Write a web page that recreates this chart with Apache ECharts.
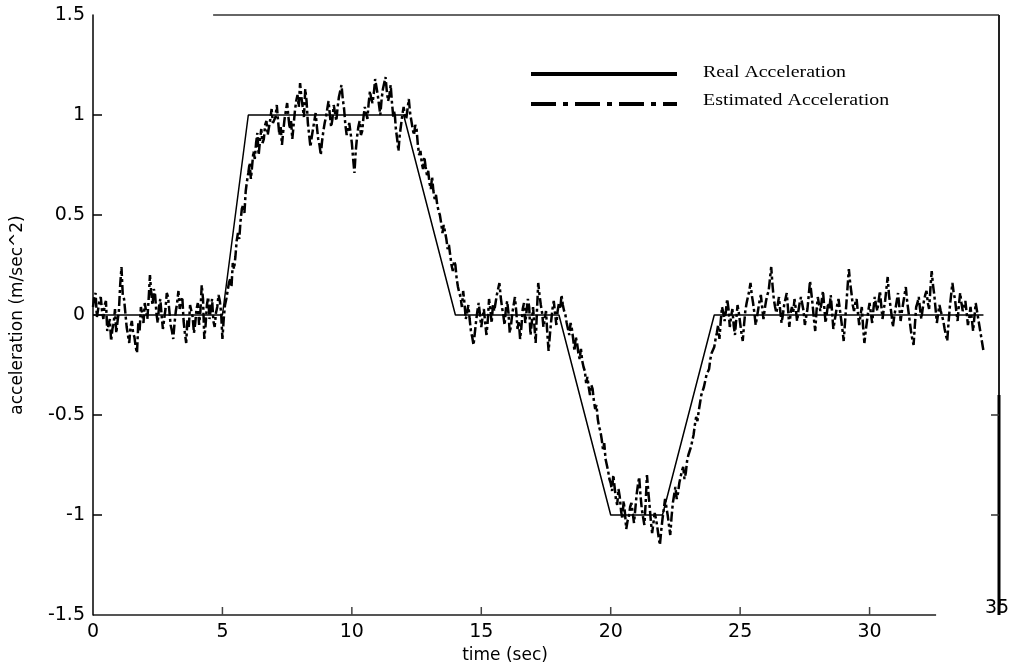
<!DOCTYPE html>
<html>
<head>
<meta charset="utf-8">
<script src="https://cdn.jsdelivr.net/npm/echarts@6/dist/echarts.min.js"></script>
<style>
  html, body { margin: 0; padding: 0; background: #fff; }
  #chart { width: 1016px; height: 670px; }
</style>
</head>
<body>
<div id="chart"></div>
<script>
// Axis ticks
const xTicks = [0, 5, 10, 15, 20, 25, 30, 35];
const yTicks = [-1.5, -1, -0.5, 0, 0.5, 1, 1.5];

// Commanded (real) acceleration profile: breakpoints in time (sec) and value (m/sec^2)
const realTime  = [0, 5, 6, 12, 14, 18, 20, 22, 24, 34.4];
const realAccel = [0, 0, 1, 1, 0, 0, -1, -1, 0, 0];

// Estimated acceleration, sampled every 0.05 sec starting at t = 0 (one row per second)
const sampleStep = 0.05;
const estimatedAccel = [
  0.04, 0.09, 0.11, -0.01, 0.03, 0.07, 0.09, 0.02, -0.02, 0.05, 0.07, -0.08, -0.05, -0.02, -0.13, -0.07, -0.04, 0.03, -0.09, -0.03,
  0.02, 0.15, 0.24, 0.10, 0.08, 0.01, -0.06, -0.10, -0.14, -0.06, -0.03, -0.09, -0.11, -0.16, -0.19, -0.04, -0.08, 0.04, 0.01, -0.04,
  0.06, 0.02, -0.02, 0.08, 0.20, 0.11, 0.05, 0.13, 0.10, 0.01, -0.04, 0.04, 0.08, 0.00, -0.07, -0.02, 0.03, 0.11, 0.09, 0.02,
  -0.05, -0.08, -0.12, -0.04, 0.02, 0.06, 0.12, 0.03, 0.07, 0.09, -0.03, -0.09, -0.14, -0.02, -0.06, 0.05, 0.04, -0.01, -0.09, -0.04,
  0.03, 0.06, -0.05, 0.02, 0.15, 0.08, -0.12, -0.05, 0.05, 0.09, -0.02, 0.03, 0.08, -0.03, -0.06, 0.01, 0.04, 0.10, 0.07, 0.01,
  -0.12, -0.02, 0.05, 0.08, 0.12, 0.16, 0.18, 0.14, 0.26, 0.23, 0.29, 0.37, 0.41, 0.38, 0.47, 0.53, 0.55, 0.51, 0.62, 0.67,
  0.71, 0.76, 0.68, 0.75, 0.82, 0.78, 0.86, 0.91, 0.80, 0.87, 0.93, 0.86, 0.88, 0.95, 0.97, 0.90, 0.91, 0.98, 1.03, 0.96,
  0.95, 0.99, 1.05, 0.97, 0.90, 0.94, 0.85, 0.92, 0.98, 1.02, 1.06, 0.99, 0.93, 0.97, 0.88, 0.95, 1.02, 1.07, 1.10, 1.04,
  1.16, 1.09, 1.04, 0.99, 1.13, 1.07, 0.96, 0.90, 0.84, 0.89, 0.93, 0.97, 1.01, 0.94, 0.88, 0.85, 0.80, 0.87, 0.92, 0.96,
  0.99, 1.03, 1.07, 1.00, 0.94, 0.98, 1.05, 1.01, 0.97, 1.04, 1.09, 1.12, 1.15, 1.08, 1.03, 0.95, 0.90, 0.93, 0.96, 0.91,
  0.86, 0.78, 0.71, 0.82, 0.89, 0.94, 0.97, 0.90, 0.92, 0.99, 1.04, 1.01, 0.98, 1.06, 1.12, 1.08, 1.06, 1.11, 1.18, 1.14,
  1.10, 1.05, 1.00, 1.08, 1.13, 1.16, 1.19, 1.12, 1.07, 1.10, 1.15, 1.06, 0.99, 1.02, 0.93, 0.88, 0.82, 0.90, 0.95, 1.00,
  1.04, 1.00, 0.98, 1.03, 1.08, 1.01, 0.97, 0.93, 0.90, 0.95, 0.93, 0.85, 0.80, 0.82, 0.76, 0.73, 0.79, 0.74, 0.70, 0.72,
  0.66, 0.63, 0.69, 0.62, 0.58, 0.60, 0.55, 0.52, 0.50, 0.46, 0.41, 0.45, 0.44, 0.38, 0.33, 0.35, 0.30, 0.25, 0.22, 0.27,
  0.25, 0.18, 0.14, 0.11, 0.09, 0.04, 0.12, 0.06, -0.02, 0.01, 0.05, -0.02, -0.08, -0.11, -0.15, -0.09, -0.03, 0.02, 0.06, 0.00,
  -0.06, -0.01, 0.03, -0.04, -0.10, -0.03, 0.08, 0.03, -0.04, 0.05, 0.02, 0.06, 0.10, 0.13, 0.16, 0.09, 0.04, 0.00, -0.05, 0.03,
  0.07, 0.01, -0.09, -0.05, 0.01, 0.05, 0.09, 0.02, -0.07, -0.03, -0.12, -0.06, 0.03, 0.06, -0.04, 0.02, 0.08, 0.04, -0.10, -0.04,
  0.04, -0.05, -0.14, 0.02, 0.16, 0.10, 0.05, 0.01, -0.06, -0.02, 0.02, -0.09, -0.18, -0.10, -0.03, 0.03, 0.07, 0.01, -0.05, 0.02,
  0.06, 0.03, 0.10, 0.05, 0.02, 0.00, -0.04, -0.07, -0.10, -0.04, -0.07, -0.12, -0.18, -0.11, -0.14, -0.19, -0.22, -0.17, -0.23, -0.26,
  -0.28, -0.34, -0.31, -0.36, -0.40, -0.35, -0.37, -0.43, -0.47, -0.45, -0.52, -0.56, -0.58, -0.62, -0.67, -0.64, -0.72, -0.75, -0.78, -0.82,
  -0.84, -0.88, -0.80, -0.86, -0.92, -0.95, -0.87, -0.91, -0.98, -1.02, -0.93, -0.99, -1.07, -1.03, -1.01, -0.96, -0.94, -0.99, -1.04, -0.97,
  -0.90, -0.85, -0.81, -0.90, -0.97, -1.01, -1.05, -0.94, -0.80, -0.88, -0.95, -1.03, -1.09, -1.04, -0.99, -1.02, -1.06, -1.11, -1.15, -1.08,
  -1.02, -0.97, -0.92, -0.96, -1.00, -1.05, -1.10, -1.01, -0.94, -0.90, -0.86, -0.92, -0.89, -0.84, -0.81, -0.78, -0.76, -0.82, -0.79, -0.73,
  -0.70, -0.68, -0.66, -0.63, -0.60, -0.55, -0.51, -0.53, -0.48, -0.44, -0.40, -0.41, -0.36, -0.33, -0.30, -0.31, -0.27, -0.22, -0.19, -0.20,
  -0.16, -0.12, -0.09, -0.05, -0.12, -0.03, 0.04, 0.01, -0.03, 0.02, 0.08, 0.03, -0.06, -0.01, 0.03, -0.05, -0.10, -0.02, 0.05, 0.01,
  -0.04, -0.09, -0.13, -0.05, 0.02, 0.06, 0.09, 0.12, 0.16, 0.10, 0.06, 0.01, -0.05, -0.01, 0.03, 0.07, 0.10, 0.04, -0.02, 0.03,
  0.07, 0.10, 0.12, 0.18, 0.24, 0.15, 0.08, 0.04, 0.01, 0.05, 0.09, 0.02, -0.04, 0.00, 0.05, 0.08, 0.11, 0.03, -0.06, 0.01,
  0.04, 0.01, 0.08, 0.03, -0.03, 0.02, 0.06, 0.09, 0.10, 0.02, -0.05, -0.01, 0.03, 0.10, 0.17, 0.11, 0.05, -0.02, -0.08, 0.02,
  0.09, 0.05, 0.02, 0.07, 0.12, 0.04, -0.04, 0.01, 0.06, 0.03, 0.10, 0.02, -0.07, -0.03, 0.01, 0.05, 0.08, 0.03, -0.02, -0.07,
  -0.13, -0.04, 0.05, 0.14, 0.23, 0.16, 0.11, 0.05, 0.02, 0.06, 0.08, 0.01, -0.05, 0.00, 0.04, -0.06, -0.14, -0.08, -0.03, 0.02,
  0.06, 0.01, -0.04, 0.03, 0.09, 0.05, 0.02, 0.07, 0.12, 0.05, -0.02, 0.03, 0.07, 0.13, 0.19, 0.10, 0.05, 0.00, -0.06, -0.01,
  0.03, 0.07, 0.11, 0.04, -0.03, 0.02, 0.06, 0.10, 0.14, 0.07, 0.02, -0.03, -0.08, -0.12, -0.15, -0.05, 0.04, 0.06, 0.09, 0.03,
  -0.02, 0.03, 0.07, 0.10, 0.12, 0.06, 0.03, 0.13, 0.22, 0.15, 0.10, 0.03, -0.04, 0.01, 0.05, 0.02, 0.01, -0.03, -0.07, -0.10,
  -0.13, -0.04, 0.04, 0.10, 0.16, 0.11, 0.08, 0.02, -0.03, 0.05, 0.11, 0.06, 0.02, 0.04, 0.07, 0.01, -0.05, -0.01, 0.04, -0.02,
  -0.08, -0.01, 0.06, 0.02, -0.02, -0.06, -0.10, -0.14, -0.18
];

const seriesNames = ['Real Acceleration', 'Estimated Acceleration'];
const xTitle = 'time (sec)';
const yTitle = 'acceleration (m/sec^2)';

const realData = realTime.map((t, i) => [t, realAccel[i]]);
const estData = estimatedAccel.map((v, i) => [Number((i * sampleStep).toFixed(2)), v]);

const tickFont = { fontFamily: 'DejaVu Sans', fontSize: 19, color: '#000' };
const xMax = xTicks[xTicks.length - 1];

const chart = echarts.init(document.getElementById('chart'), null, { renderer: 'canvas' });

chart.setOption({
  animation: false,
  backgroundColor: '#fff',
  grid: { left: 93, right: 17, top: 15, bottom: 55, containLabel: false },
  xAxis: {
    type: 'value',
    min: xTicks[0],
    max: xMax,
    interval: 5,
    axisLine: { show: false, onZero: false },
    axisTick: { show: false },
    axisLabel: {
      ...tickFont,
      margin: 8,
      formatter: v => (v === xMax ? '' : String(v))
    },
    splitLine: { show: false }
  },
  yAxis: {
    type: 'value',
    min: yTicks[0],
    max: yTicks[yTicks.length - 1],
    interval: 0.5,
    axisLine: { show: true, onZero: false, lineStyle: { color: '#000', width: 1.5 } },
    axisTick: { show: false },
    axisLabel: { ...tickFont, margin: 8 },
    splitLine: { show: false }
  },
  series: [
    {
      name: seriesNames[0],
      type: 'line',
      data: realData,
      symbol: 'none',
      z: 3,
      lineStyle: { color: '#000', width: 1.5 }
    },
    {
      name: seriesNames[1],
      type: 'line',
      data: estData,
      symbol: 'none',
      z: 2,
      lineStyle: { color: '#000', width: 2.5, type: [10, 3, 3, 3] }
    }
  ]
});

// Frame pieces, ticks, legend and titles, positioned from the grid's coordinate system
const px = (x, y) => chart.convertToPixel({ gridIndex: 0 }, [x, y]);
const yLo = yTicks[0], yHi = yTicks[yTicks.length - 1];
const bl = px(0, yLo), bEnd = px(32.57, yLo);
const tStart = px(4.64, yHi), tr = px(xMax, yHi), br = px(xMax, yLo);
const rThick = px(xMax, -0.4);

const seg = (x1, y1, x2, y2, stroke, lineWidth) =>
  ({ type: 'line', silent: true, shape: { x1, y1, x2, y2 }, style: { stroke, lineWidth } });

const graphics = [
  seg(bl[0], bl[1], bEnd[0], bEnd[1], '#555', 2),
  seg(tStart[0], tStart[1], tr[0], tr[1], '#333', 1.5),
  seg(tr[0], tr[1], br[0], br[1], '#222', 2),
  seg(rThick[0], rThick[1], br[0], br[1], '#000', 3)
];

// inward ticks on the bottom axis
xTicks.slice(1, -1).forEach(v => {
  const p = px(v, yLo);
  graphics.push(seg(p[0], p[1], p[0], p[1] - 8, '#444', 1.5));
});
// inward ticks on the left axis
yTicks.slice(1, -1).forEach(v => {
  const p = px(0, v);
  graphics.push(seg(p[0], p[1], p[0] + 9, p[1], '#000', 1.5));
});
// inward ticks on the lower right border
[-0.5, -1].forEach(v => {
  const p = px(xMax, v);
  graphics.push(seg(p[0] - 8, p[1], p[0], p[1], '#333', 1.5));
});

graphics.push(
  // last x tick label, drawn beside the right border
  { type: 'text', x: br[0] - 2, y: br[1] - 7,
    style: { text: String(xMax), fontFamily: 'DejaVu Sans', fontSize: 19, fill: '#000', align: 'center', verticalAlign: 'middle' } },
  // legend
  seg(531, 74, 677, 74, '#000', 4),
  { type: 'line', silent: true, shape: { x1: 531, y1: 104, x2: 677, y2: 104 }, style: { stroke: '#000', lineWidth: 4, lineDash: [25, 7, 5, 7] } },
  { type: 'text', x: 703, y: 73, scaleX: 1.17,
    style: { text: seriesNames[0], fontFamily: 'Liberation Serif', fontSize: 17, fill: '#000', align: 'left', verticalAlign: 'middle' } },
  { type: 'text', x: 703, y: 101, scaleX: 1.17,
    style: { text: seriesNames[1], fontFamily: 'Liberation Serif', fontSize: 17, fill: '#000', align: 'left', verticalAlign: 'middle' } },
  // axis titles
  { type: 'text', x: 505, y: 656,
    style: { text: xTitle, fontFamily: 'DejaVu Sans', fontSize: 17, fill: '#000', align: 'center', verticalAlign: 'middle' } },
  { type: 'text', x: 18, y: 315, rotation: Math.PI / 2,
    style: { text: yTitle, fontFamily: 'DejaVu Sans', fontSize: 17, fill: '#000', align: 'center', verticalAlign: 'middle' } }
);

chart.setOption({ graphic: graphics });
</script>
</body>
</html>
